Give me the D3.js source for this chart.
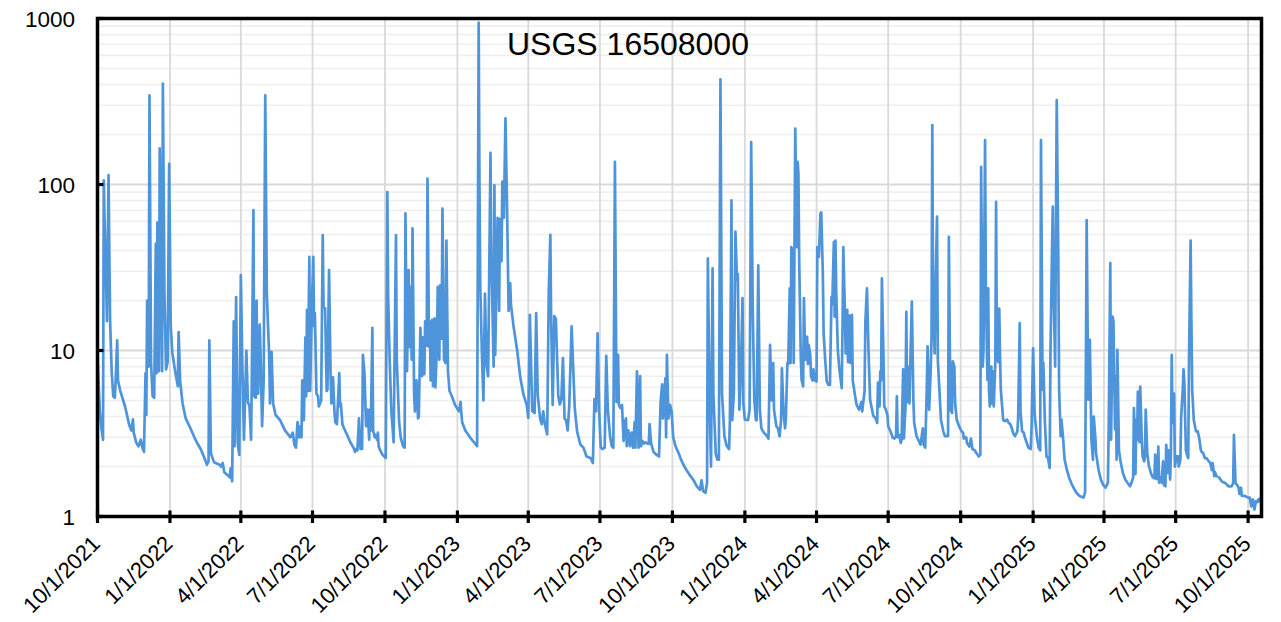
<!DOCTYPE html>
<html><head><meta charset="utf-8">
<script src="https://cdn.jsdelivr.net/npm/d3@7"></script>
<style>
body{margin:0;background:#fff}
svg{display:block}
text{font-family:"Liberation Sans",Arial,sans-serif;fill:#000}
</style>
</head><body>
<svg id="chart" width="1281" height="622"></svg>
<script>
const chartTitle = "USGS 16508000";
const xStart = "2021-10-01";
const xEnd = "2025-10-18";
const xTickLabels = ["10/1/2021","1/1/2022","4/1/2022","7/1/2022","10/1/2022","1/1/2023","4/1/2023","7/1/2023","10/1/2023","1/1/2024","4/1/2024","7/1/2024","10/1/2024","1/1/2025","4/1/2025","7/1/2025","10/1/2025"];
const yTickValues = [1, 10, 100, 1000];

// Daily discharge (date, value)
const wy2022 = [
["2021-10-01",9.2],["2021-10-04",4.3],["2021-10-06",3.4],["2021-10-08",2.9],["2021-10-09",106],["2021-10-10",60],["2021-10-12",25],["2021-10-13",15],["2021-10-15",114],["2021-10-16",40],["2021-10-17",15],["2021-10-19",7.5],["2021-10-21",5.3],["2021-10-23",5.2],["2021-10-24",6.5],["2021-10-26",11.5],["2021-10-27",6.6],["2021-10-30",5.7],
["2021-11-05",4.6],["2021-11-10",3.6],["2021-11-13",3.3],["2021-11-15",3.85],["2021-11-16",3.2],["2021-11-19",2.8],["2021-11-22",2.65],["2021-11-25",2.9],["2021-11-27",2.6],["2021-11-29",2.45],["2021-11-30",4.2],
["2021-12-01",7.3],["2021-12-02",4.1],["2021-12-03",20],["2021-12-05",8],["2021-12-06",344],["2021-12-08",8.4],["2021-12-10",5.3],["2021-12-12",5.2],["2021-12-14",44],["2021-12-15",7.3],["2021-12-16",59],["2021-12-18",7.5],["2021-12-19",165],["2021-12-20",60],["2021-12-22",7.5],["2021-12-23",405],["2021-12-25",22],["2021-12-27",7.7],["2021-12-29",8.5],["2021-12-31",133],
["2022-01-02",14],["2022-01-04",9.7],["2022-01-08",7.3],["2022-01-11",6.1],["2022-01-12",12.9],["2022-01-14",6.5],["2022-01-17",4.8],["2022-01-21",3.9],["2022-01-27",3.4],
["2022-02-01",3.0],["2022-02-04",2.8],["2022-02-09",2.55],["2022-02-13",2.3],["2022-02-17",2.05],["2022-02-19",2.15],["2022-02-20",11.5],["2022-02-22",2.4],["2022-02-26",2.12],
["2022-03-02",2.08],["2022-03-05",2.05],["2022-03-07",2.0],["2022-03-09",2.1],["2022-03-11",1.85],["2022-03-15",1.78],["2022-03-18",1.72],["2022-03-19",1.95],["2022-03-21",1.63],["2022-03-23",15],["2022-03-24",2.65],["2022-03-26",21],["2022-03-28",2.8],["2022-03-30",2.35],
["2022-04-01",28.5],["2022-04-03",7.8],["2022-04-05",2.9],["2022-04-08",10],["2022-04-10",4.9],["2022-04-12",4.6],["2022-04-14",2.9],["2022-04-15",7.2],["2022-04-17",70],["2022-04-18",5.3],["2022-04-20",5.2],["2022-04-21",20],["2022-04-22",7.5],["2022-04-23",5.5],["2022-04-25",14.3],["2022-04-26",9.5],["2022-04-28",3.5],["2022-04-30",6.6],
["2022-05-02",344],["2022-05-04",22],["2022-05-07",9.2],["2022-05-08",4.8],["2022-05-10",9.8],["2022-05-12",4.8],["2022-05-15",4.1],["2022-05-21",3.8],["2022-05-27",3.3],
["2022-06-03",3.0],["2022-06-06",3.2],["2022-06-08",2.7],["2022-06-10",2.6],["2022-06-12",3.7],["2022-06-14",3.0],["2022-06-16",3.5],["2022-06-17",3.0],["2022-06-18",6.6],["2022-06-20",3.8],["2022-06-22",12],["2022-06-23",5.3],["2022-06-24",17.6],["2022-06-25",5.7],["2022-06-27",36.7],["2022-06-28",5.7],["2022-06-30",16.8],
["2022-07-02",36.7],["2022-07-03",14],["2022-07-04",16.8],["2022-07-06",5.5],["2022-07-08",5.3],["2022-07-09",4.6],["2022-07-12",5.0],["2022-07-14",49.5],["2022-07-15",18.3],["2022-07-17",18],["2022-07-19",5.7],["2022-07-20",5.8],["2022-07-22",30.5],["2022-07-24",7],["2022-07-25",4.8],["2022-07-27",6.9],["2022-07-29",4.2],["2022-07-30",3.7],
["2022-08-01",3.6],["2022-08-04",7.3],["2022-08-05",4.6],["2022-08-06",4.8],["2022-08-08",3.6],["2022-08-10",3.4],["2022-08-14",3.1],["2022-08-18",2.8],["2022-08-22",2.6],["2022-08-24",2.45],["2022-08-25",2.55],["2022-08-27",2.5],["2022-08-29",3.9],["2022-08-31",2.55],
["2022-09-02",2.55],["2022-09-03",9.4],["2022-09-05",7.3],["2022-09-07",3.5],["2022-09-09",4.4],["2022-09-11",2.9],["2022-09-12",4.4],["2022-09-13",3.3],["2022-09-15",13.7],["2022-09-16",3.3],["2022-09-18",3.0],["2022-09-19",3.1],["2022-09-21",2.9],["2022-09-22",3.2],["2022-09-23",2.65],["2022-09-25",2.5],["2022-09-28",2.35]
];
const wy2023 = [
["2022-10-02",2.25],["2022-10-04",90],["2022-10-05",22],["2022-10-07",8.8],["2022-10-09",4.4],["2022-10-12",2.8],["2022-10-15",49.5],["2022-10-16",8.8],["2022-10-19",3.7],["2022-10-21",3.0],["2022-10-24",2.65],["2022-10-26",2.6],["2022-10-27",67],["2022-10-29",7.5],["2022-10-31",30.5],
["2022-11-01",10.5],["2022-11-02",24.2],["2022-11-04",8.8],["2022-11-05",54.5],["2022-11-07",5.5],["2022-11-08",4.3],["2022-11-10",6.6],["2022-11-12",3.9],["2022-11-13",4.0],["2022-11-15",13.7],["2022-11-17",7.0],["2022-11-18",12],["2022-11-20",7.2],["2022-11-21",15],["2022-11-23",10.7],["2022-11-24",108.7],["2022-11-26",10.5],["2022-11-27",15],["2022-11-28",6.6],["2022-11-30",15.3],
["2022-12-01",6.1],["2022-12-03",15.6],["2022-12-04",6.0],["2022-12-06",10.5],["2022-12-07",24.2],["2022-12-09",8.8],["2022-12-10",24.7],["2022-12-12",11.8],["2022-12-13",71.6],["2022-12-15",8.8],["2022-12-17",8.4],["2022-12-18",46],["2022-12-20",7.5],["2022-12-22",5.7],["2022-12-25",5.3],["2022-12-29",4.7],
["2023-01-03",4.3],["2023-01-05",4.9],["2023-01-06",4.2],["2023-01-07",3.7],["2023-01-11",3.3],["2023-01-17",3.0],["2023-01-22",2.8],["2023-01-26",2.65],["2023-01-28",946],["2023-01-29",100],["2023-01-30",25],
["2023-02-01",10],["2023-02-03",5.0],["2023-02-05",22],["2023-02-07",8.2],["2023-02-09",7],["2023-02-12",155],["2023-02-13",39.6],["2023-02-16",8],["2023-02-17",99],["2023-02-18",9.4],["2023-02-21",63],["2023-02-23",17.3],["2023-02-24",62],["2023-02-26",34.5],["2023-02-27",104],
["2023-03-01",63],["2023-03-03",250],["2023-03-05",75],["2023-03-07",17.3],["2023-03-09",25.5],["2023-03-10",18.9],["2023-03-13",14.3],["2023-03-18",9.9],["2023-03-22",6.8],["2023-03-26",5.4],["2023-03-30",4.7],
["2023-04-01",3.93],["2023-04-03",16.4],["2023-04-06",4.32],["2023-04-09",4.2],["2023-04-11",16.8],["2023-04-13",5.4],["2023-04-16",3.9],["2023-04-18",3.6],["2023-04-20",4.3],["2023-04-22",3.6],["2023-04-25",3.12],["2023-04-27",22.8],["2023-04-29",49.7],["2023-04-30",15.7],
["2023-05-02",4.7],["2023-05-04",16.1],["2023-05-06",15.5],["2023-05-09",5.4],["2023-05-11",4.73],["2023-05-13",5.1],["2023-05-15",9.0],["2023-05-17",3.9],["2023-05-19",3.8],["2023-05-21",3.3],["2023-05-23",4.6],["2023-05-26",14],["2023-05-28",7.9],["2023-05-30",4.5],
["2023-06-02",3.25],["2023-06-06",2.72],["2023-06-10",2.6],["2023-06-14",2.3],["2023-06-19",2.25],["2023-06-22",2.1],["2023-06-24",5.1],["2023-06-26",4.3],["2023-06-28",12.7],["2023-06-30",4.3],
["2023-07-02",2.6],["2023-07-04",2.55],["2023-07-07",2.6],["2023-07-09",9.3],["2023-07-11",4.4],["2023-07-14",3.0],["2023-07-16",2.65],["2023-07-18",2.6],["2023-07-20",137],["2023-07-22",4.9],["2023-07-24",9.4],["2023-07-25",4.7],["2023-07-27",4.5],["2023-07-29",4.7],["2023-07-31",2.85],
["2023-08-01",3.6],["2023-08-03",3.9],["2023-08-04",2.65],["2023-08-06",3.3],["2023-08-08",2.65],["2023-08-10",3.2],["2023-08-12",2.6],["2023-08-14",3.7],["2023-08-15",2.6],["2023-08-17",7.5],["2023-08-19",2.6],["2023-08-21",7.0],["2023-08-22",2.65],["2023-08-24",2.85],["2023-08-26",2.75],["2023-08-28",2.8],["2023-08-30",2.75],
["2023-09-01",2.75],["2023-09-02",3.6],["2023-09-04",2.75],["2023-09-07",2.45],["2023-09-11",2.35],["2023-09-14",2.3],["2023-09-16",4.9],["2023-09-18",6.25],["2023-09-19",3.9],["2023-09-21",5.4],["2023-09-22",6.8],["2023-09-23",3.0],["2023-09-24",9.4],["2023-09-26",3.9],["2023-09-28",4.7],["2023-09-30",4.3]
];
const wy2024 = [
["2023-10-02",3.0],["2023-10-05",2.65],["2023-10-09",2.4],["2023-10-12",2.2],["2023-10-15",2.05],["2023-10-19",1.9],["2023-10-24",1.75],["2023-10-28",1.65],
["2023-11-01",1.52],["2023-11-05",1.45],["2023-11-07",1.65],["2023-11-09",1.42],["2023-11-12",1.39],["2023-11-14",1.6],["2023-11-15",35.9],["2023-11-17",5.5],["2023-11-19",2.0],["2023-11-21",31.3],["2023-11-22",5.5],["2023-11-25",2.4],["2023-11-27",2.2],["2023-11-29",2.2],
["2023-12-01",430],["2023-12-03",5.5],["2023-12-06",3.04],["2023-12-09",2.65],["2023-12-12",2.55],["2023-12-13",3.8],["2023-12-15",80.4],["2023-12-16",3.8],["2023-12-18",5.5],["2023-12-20",52],["2023-12-22",26.6],["2023-12-23",29],["2023-12-25",4.4],["2023-12-27",7.7],["2023-12-29",20.7],["2023-12-30",4.8],
["2024-01-01",3.83],["2024-01-05",3.8],["2024-01-07",4.4],["2024-01-09",180],["2024-01-11",17.6],["2024-01-13",5.05],["2024-01-15",3.8],["2024-01-16",3.8],["2024-01-18",32.6],["2024-01-20",4.4],["2024-01-22",3.4],["2024-01-25",3.2],["2024-01-28",3.1],["2024-01-31",2.95],
["2024-02-02",10.8],["2024-02-04",5.0],["2024-02-06",8.4],["2024-02-07",4.4],["2024-02-10",3.5],["2024-02-12",3.4],["2024-02-14",3.04],["2024-02-16",3.8],["2024-02-17",7.8],["2024-02-19",4.4],["2024-02-21",3.4],["2024-02-22",3.8],["2024-02-24",8.4],["2024-02-25",8.3],["2024-02-27",23.7],["2024-02-28",8.4],["2024-02-29",42],
["2024-03-02",39],["2024-03-03",8.4],["2024-03-04",44],["2024-03-05",217],["2024-03-07",42],["2024-03-08",137],["2024-03-09",116],["2024-03-10",35],["2024-03-12",9.2],["2024-03-13",6.66],["2024-03-15",6.07],["2024-03-16",20.7],["2024-03-17",12.1],["2024-03-18",8.8],["2024-03-20",12.1],["2024-03-21",8.3],["2024-03-22",10.8],["2024-03-24",9.5],["2024-03-25",7.0],["2024-03-27",6.6],["2024-03-28",7.7],["2024-03-30",6.6],
["2024-04-01",6.5],["2024-04-02",42],["2024-04-04",36.6],["2024-04-06",67],["2024-04-07",68],["2024-04-09",29],["2024-04-10",12.7],["2024-04-12",8.8],["2024-04-14",6.5],["2024-04-16",6.2],["2024-04-18",6.2],["2024-04-20",21],["2024-04-21",19],["2024-04-23",45],["2024-04-24",16],["2024-04-25",46],["2024-04-26",23.2],["2024-04-28",10.1],["2024-04-30",7.7],
["2024-05-03",5.94],["2024-05-04",13.9],["2024-05-05",42],["2024-05-07",17.1],["2024-05-08",9.6],["2024-05-10",17.6],["2024-05-11",8.5],["2024-05-13",16.2],["2024-05-14",8.4],["2024-05-16",16.4],["2024-05-17",6.6],["2024-05-20",5.3],["2024-05-22",4.7],["2024-05-25",4.4],["2024-05-28",4.9],["2024-05-29",4.3],
["2024-06-01",5.7],["2024-06-02",14.9],["2024-06-04",23.7],["2024-06-06",10],["2024-06-08",5.05],["2024-06-12",4.05],["2024-06-15",3.9],["2024-06-17",3.66],["2024-06-18",6.4],["2024-06-20",4.6],["2024-06-21",7.5],["2024-06-22",6.6],["2024-06-23",27.2],["2024-06-25",9.2],["2024-06-26",4.6],["2024-06-28",4.4],["2024-06-30",4.1],
["2024-07-01",3.5],["2024-07-04",3.25],["2024-07-07",2.97],["2024-07-09",2.95],["2024-07-11",3.05],["2024-07-12",5.3],["2024-07-13",3.0],["2024-07-15",3.1],["2024-07-17",2.77],["2024-07-18",2.9],["2024-07-20",7.7],["2024-07-21",2.95],["2024-07-23",4.6],["2024-07-24",17.1],["2024-07-25",4.9],["2024-07-26",8.0],["2024-07-28",4.8],["2024-07-29",8.0],["2024-07-31",19.7],
["2024-08-02",5.0],["2024-08-03",3.66],["2024-08-06",3.05],["2024-08-09",2.84],["2024-08-11",2.71],["2024-08-14",3.4],["2024-08-15",2.7],["2024-08-17",2.6],["2024-08-19",5.94],["2024-08-20",10.6],["2024-08-22",4.4],["2024-08-24",7.7],["2024-08-25",11.9],["2024-08-26",228],["2024-08-27",18.3],["2024-08-29",9.6],["2024-08-30",23.2],
["2024-09-01",64],["2024-09-02",8.8],["2024-09-04",5.8],["2024-09-06",3.83],["2024-09-09",3.26],["2024-09-11",3.05],["2024-09-15",3.05],["2024-09-16",48.4],["2024-09-18",4.4],["2024-09-20",4.2],["2024-09-21",8.6],["2024-09-23",8.0],["2024-09-24",4.8],["2024-09-26",3.83],["2024-09-29",3.5]
];
const wy2025 = [
["2024-10-02",3.26],["2024-10-04",3.2],["2024-10-05",2.95],["2024-10-08",3.0],["2024-10-09",2.77],["2024-10-12",2.64],["2024-10-14",2.95],["2024-10-16",2.55],["2024-10-19",2.5],["2024-10-21",2.41],["2024-10-24",2.3],["2024-10-26",2.35],["2024-10-27",127.6],["2024-10-29",8.0],["2024-10-30",10],
["2024-11-01",185],["2024-11-02",23.2],["2024-11-04",6.66],["2024-11-05",23.7],["2024-11-06",5.8],["2024-11-07",4.6],["2024-11-09",8.0],["2024-11-10",4.8],["2024-11-11",7.5],["2024-11-12",4.6],["2024-11-14",8.4],["2024-11-15",78.5],["2024-11-16",9.2],["2024-11-18",8.5],["2024-11-19",17.9],["2024-11-20",9.2],["2024-11-21",5.8],["2024-11-24",3.83],["2024-11-26",3.75],["2024-11-29",3.83],
["2024-12-01",3.66],["2024-12-03",3.6],["2024-12-05",3.4],["2024-12-07",3.15],["2024-12-09",3.05],["2024-12-12",3.26],["2024-12-13",3.9],["2024-12-15",14.6],["2024-12-16",4.3],["2024-12-18",3.26],["2024-12-20",3.2],["2024-12-22",2.95],["2024-12-24",2.77],["2024-12-26",2.6],["2024-12-29",2.55],["2024-12-30",3.4],
["2025-01-01",10.3],["2025-01-03",4.1],["2025-01-06",2.97],["2025-01-08",2.6],["2025-01-10",2.5],["2025-01-11",185],["2025-01-13",5.8],["2025-01-14",8.4],["2025-01-16",3.66],["2025-01-18",2.3],["2025-01-20",2.25],["2025-01-22",1.96],["2025-01-23",9.2],["2025-01-25",40],["2025-01-26",73.5],["2025-01-27",23.2],["2025-01-29",8],["2025-01-30",58],["2025-01-31",322],
["2025-02-02",36.6],["2025-02-03",5.8],["2025-02-05",3.05],["2025-02-06",3.83],["2025-02-08",3.0],["2025-02-10",2.2],["2025-02-13",1.9],["2025-02-16",1.7],["2025-02-19",1.57],["2025-02-22",1.47],["2025-02-25",1.39],
["2025-03-01",1.33],["2025-03-06",1.3],["2025-03-08",1.4],["2025-03-09",8],["2025-03-10",61],["2025-03-12",5.05],["2025-03-14",11.6],["2025-03-16",2.9],["2025-03-18",2.2],["2025-03-19",4.0],["2025-03-21",3.0],["2025-03-22",2.4],["2025-03-25",1.92],["2025-03-28",1.67],["2025-03-31",1.55],
["2025-04-03",1.49],["2025-04-06",1.6],["2025-04-07",3.5],["2025-04-09",33.6],["2025-04-10",2.9],["2025-04-12",16],["2025-04-13",15],["2025-04-15",3.35],["2025-04-16",7],["2025-04-17",2.2],["2025-04-18",10.1],["2025-04-20",2.5],["2025-04-22",2.15],["2025-04-25",1.83],["2025-04-28",1.67],
["2025-05-01",1.59],["2025-05-04",1.52],["2025-05-06",1.6],["2025-05-08",1.72],["2025-05-09",4.5],["2025-05-11",1.8],["2025-05-12",3.83],["2025-05-13",2.9],["2025-05-14",5.66],["2025-05-16",2.8],["2025-05-17",6.07],["2025-05-19",2.9],["2025-05-20",2.3],["2025-05-22",2.15],["2025-05-23",2.3],["2025-05-24",4.4],["2025-05-26",2.4],["2025-05-28",2.02],["2025-05-31",1.8],
["2025-06-02",1.72],["2025-06-04",1.7],["2025-06-05",2.36],["2025-06-07",1.68],["2025-06-08",1.8],["2025-06-09",2.64],["2025-06-10",1.6],["2025-06-12",1.72],["2025-06-13",1.6],["2025-06-15",2.15],["2025-06-16",1.55],["2025-06-18",1.52],["2025-06-19",2.7],["2025-06-21",1.83],["2025-06-22",2.5],["2025-06-24",1.67],["2025-06-25",2.45],["2025-06-26",9.4],["2025-06-27",3.66],["2025-06-29",5.5],["2025-06-30",2.0],
["2025-07-02",2.3],["2025-07-04",2.3],["2025-07-05",2.0],["2025-07-07",2.2],["2025-07-08",4.0],["2025-07-10",5.8],["2025-07-11",7.7],["2025-07-12",6.5],["2025-07-14",2.5],["2025-07-16",2.3],["2025-07-17",2.25],["2025-07-18",9.2],["2025-07-20",46],["2025-07-21",14.6],["2025-07-22",5.8],["2025-07-24",3.83],["2025-07-26",3.4],["2025-07-27",3.26],["2025-07-29",3.26],["2025-07-31",2.95],
["2025-08-02",2.5],["2025-08-03",2.45],["2025-08-05",2.41],["2025-08-07",2.25],["2025-08-09",2.25],["2025-08-12",2.15],["2025-08-14",2.1],["2025-08-16",1.9],["2025-08-17",2.1],["2025-08-19",1.75],["2025-08-20",1.85],["2025-08-22",1.75],["2025-08-23",null],["2025-08-25",1.72],["2025-08-29",1.62],
["2025-09-02",1.59],["2025-09-06",1.52],["2025-09-10",1.52],["2025-09-12",1.59],["2025-09-13",3.1],["2025-09-15",1.59],["2025-09-17",1.55],["2025-09-19",1.49],["2025-09-20",1.37],["2025-09-22",1.49],["2025-09-23",1.33],["2025-09-25",1.33],["2025-09-27",1.33],
["2025-10-01",1.3],["2025-10-03",1.3],["2025-10-05",1.15],["2025-10-07",1.27],["2025-10-09",1.1],["2025-10-11",1.24],["2025-10-13",1.22],["2025-10-14",1.27],["2025-10-16",1.24],["2025-10-17",1.3]
];

const parseISO = d3.utcParse("%Y-%m-%d");
const parseTick = d3.utcParse("%m/%d/%Y");
const data = [...wy2022, ...wy2023, ...wy2024, ...wy2025].map(([d, v]) => ({date: parseISO(d), value: v}));

const plot = {left: 97.5, right: 1261.5, top: 18.5, bottom: 516.5};
const svg = d3.select("#chart");

const x = d3.scaleUtc().domain([parseISO(xStart), parseISO(xEnd)]).range([plot.left, plot.right]);
const y = d3.scaleLog().domain([1, 1000]).range([plot.bottom, plot.top]);

const xTicks = xTickLabels.map(s => parseTick(s));

// minor horizontal gridlines
const minorVals = [];
[1, 10, 100].forEach(dec => { for (let k = 2; k <= 9; k++) minorVals.push(k * dec); });
svg.append("g").selectAll("line").data(minorVals).join("line")
  .attr("x1", plot.left).attr("x2", plot.right)
  .attr("y1", d => y(d)).attr("y2", d => y(d))
  .attr("stroke", "#efefef").attr("stroke-width", 1.6);

// major horizontal gridlines
svg.append("g").selectAll("line").data([10, 100]).join("line")
  .attr("x1", plot.left).attr("x2", plot.right)
  .attr("y1", d => y(d)).attr("y2", d => y(d))
  .attr("stroke", "#d9d9d9").attr("stroke-width", 1.8);

// vertical gridlines
svg.append("g").selectAll("line").data(xTicks.slice(1)).join("line")
  .attr("x1", d => x(d)).attr("x2", d => x(d))
  .attr("y1", plot.top).attr("y2", plot.bottom)
  .attr("stroke", "#d9d9d9").attr("stroke-width", 1.8);

// data line
const line = d3.line()
  .defined(d => d.value != null)
  .x(d => x(d.date))
  .y(d => y(d.value));
svg.append("path").datum(data)
  .attr("d", line)
  .attr("fill", "none")
  .attr("stroke", "#4e94da")
  .attr("stroke-width", 2.7)
  .attr("stroke-linejoin", "round")
  .attr("stroke-linecap", "round");

// frame
svg.append("rect")
  .attr("x", plot.left).attr("y", plot.top)
  .attr("width", plot.right - plot.left).attr("height", plot.bottom - plot.top)
  .attr("fill", "none").attr("stroke", "#000").attr("stroke-width", 3.5);

// x ticks
svg.append("g").selectAll("line").data(xTicks).join("line")
  .attr("x1", d => x(d)).attr("x2", d => x(d))
  .attr("y1", plot.bottom - 6).attr("y2", plot.bottom + 6.5)
  .attr("stroke", "#000").attr("stroke-width", 3.2);

// y ticks
svg.append("g").selectAll("line").data(yTickValues).join("line")
  .attr("x1", plot.left).attr("x2", plot.left + 6)
  .attr("y1", d => y(d)).attr("y2", d => y(d))
  .attr("stroke", "#000").attr("stroke-width", 3.2);

// y labels
svg.append("g").selectAll("text").data(yTickValues).join("text")
  .attr("x", 75).attr("y", d => y(d)).attr("dy", "0.36em")
  .attr("text-anchor", "end").attr("font-size", 22.5)
  .text(d => d3.format("d")(d));

// x labels
svg.append("g").selectAll("text").data(xTickLabels).join("text")
  .attr("text-anchor", "end").attr("font-size", 22)
  .attr("transform", (s, i) => `translate(${x(xTicks[i]) + 4},${545}) rotate(-45)`)
  .text(s => s);

// title
svg.append("text")
  .attr("x", 507).attr("y", 55)
  .attr("font-size", 32)
  .text(chartTitle);
</script>
</body></html>
